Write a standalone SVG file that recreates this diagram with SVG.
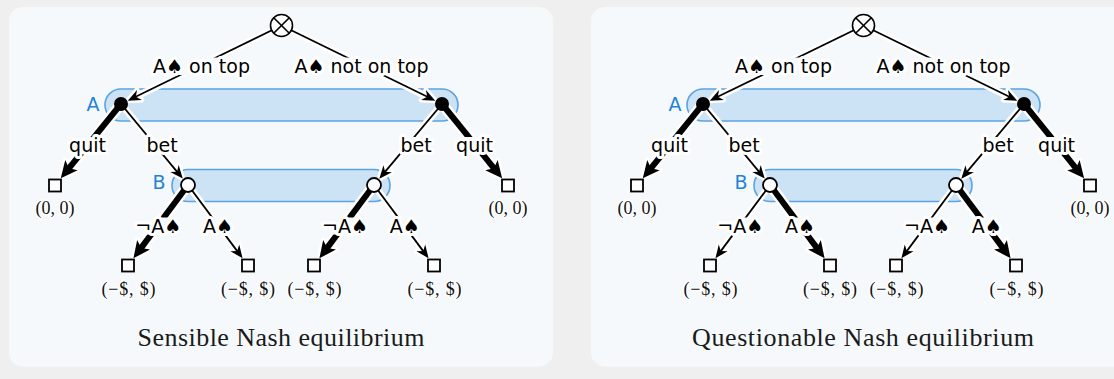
<svg xmlns="http://www.w3.org/2000/svg" width="1114" height="379" viewBox="0 0 1114 379">
<style>
.bg{fill:#efefef}
.panel{fill:#f5f9fc}
.iset{fill:#cce2f5;stroke:#5ba3e3;stroke-width:1.6}
.setlbl{font-family:"DejaVu Sans",sans-serif;font-size:19px;fill:#1f83d9;text-anchor:middle}
.cthin{stroke:#fff;stroke-width:7;fill:none;marker-end:url(#ahc)}
.cthick{stroke:#fff;stroke-width:11;fill:none;marker-end:url(#AHc)}
.thin{stroke:#000;stroke-width:1.8;fill:none;marker-end:url(#ah)}
.thick{stroke:#000;stroke-width:6;fill:none;marker-end:url(#AH)}
.lbg{fill:#f5f9fc}
.lbl{font-family:"DejaVu Sans",sans-serif;font-size:19px;fill:#000;stroke:#fff;stroke-width:6;stroke-linejoin:round;paint-order:stroke;text-anchor:middle}
.pay{font-family:"Liberation Serif",serif;font-size:18px;fill:#111;stroke:#fff;stroke-width:3;stroke-linejoin:round;paint-order:stroke;text-anchor:middle}
.title{font-family:"Liberation Serif",serif;font-size:26px;fill:#1a1a1a;text-anchor:middle}
.chance{fill:#fff;stroke:#000;stroke-width:1.6}
.pA{fill:#000}
.pB{fill:#fff;stroke:#000;stroke-width:1.8}
.leaf{fill:#fff;stroke:#000;stroke-width:1.8}
</style>
<defs>
<marker id="ah" markerUnits="userSpaceOnUse" orient="auto" refX="6.5" refY="0" markerWidth="30" markerHeight="30" overflow="visible"><path d="M0,-5.5 L13,0 L0,5.5 L4,0 Z" fill="#000"/></marker>
<marker id="ahc" markerUnits="userSpaceOnUse" orient="auto" refX="6.5" refY="0" markerWidth="30" markerHeight="30" overflow="visible"><path d="M0,-5.5 L13,0 L0,5.5 L4,0 Z" fill="#fff" stroke="#fff" stroke-width="5" stroke-linejoin="round"/></marker>
<marker id="AH" markerUnits="userSpaceOnUse" orient="auto" refX="9" refY="0" markerWidth="30" markerHeight="30" overflow="visible"><path d="M0,-8 L17,0 L0,8 L4,0 Z" fill="#000"/></marker>
<marker id="AHc" markerUnits="userSpaceOnUse" orient="auto" refX="9" refY="0" markerWidth="30" markerHeight="30" overflow="visible"><path d="M0,-8 L17,0 L0,8 L4,0 Z" fill="#fff" stroke="#fff" stroke-width="5" stroke-linejoin="round"/></marker>
</defs>
<rect class="bg" x="0" y="0" width="1114" height="379"/>

<g id="panel-sensible">
<rect class="panel" x="9" y="7" width="544" height="359.5" rx="14"/>
<g id="s-infosets">
<g id="s-infoset-A"><rect class="iset" x="105" y="89" width="353" height="32" rx="16"/><text class="setlbl" x="93" y="110.5">A</text></g>
<g id="s-infoset-B"><rect class="iset" x="172" y="169.5" width="218" height="32" rx="16"/><text class="setlbl" x="159" y="188.5">B</text></g>
</g>
<g id="s-connectors">
<line class="cthin" x1="281.5" y1="25.5" x2="133.6" y2="97.8"/>
<line class="cthin" x1="281.5" y1="25.5" x2="429.4" y2="97.8"/>
<line class="cthick" x1="121" y1="104" x2="65.8" y2="172.1"/>
<line class="cthin" x1="121" y1="104" x2="178.6" y2="173.6"/>
<line class="cthin" x1="442" y1="104" x2="383.5" y2="173.7"/>
<line class="cthick" x1="442" y1="104" x2="497.1" y2="172.1"/>
<line class="cthick" x1="188" y1="185" x2="138.2" y2="251.9"/>
<line class="cthin" x1="188" y1="185" x2="238.7" y2="253.1"/>
<line class="cthick" x1="374" y1="185" x2="324.2" y2="251.9"/>
<line class="cthin" x1="374" y1="185" x2="424.7" y2="253.1"/>
<line class="thin" x1="281.5" y1="25.5" x2="133.6" y2="97.8"/>
<line class="thin" x1="281.5" y1="25.5" x2="429.4" y2="97.8"/>
<line class="thick" x1="121" y1="104" x2="65.8" y2="172.1"/>
<line class="thin" x1="121" y1="104" x2="178.6" y2="173.6"/>
<line class="thin" x1="442" y1="104" x2="383.5" y2="173.7"/>
<line class="thick" x1="442" y1="104" x2="497.1" y2="172.1"/>
<line class="thick" x1="188" y1="185" x2="138.2" y2="251.9"/>
<line class="thin" x1="188" y1="185" x2="238.7" y2="253.1"/>
<line class="thick" x1="374" y1="185" x2="324.2" y2="251.9"/>
<line class="thin" x1="374" y1="185" x2="424.7" y2="253.1"/>
<rect class="lbg" x="152" y="57.5" width="99" height="17.5"/>
<rect class="lbg" x="293" y="57.5" width="137" height="17.5"/>
<rect class="lbg" x="68" y="137" width="39" height="17"/>
<rect class="lbg" x="146" y="137" width="32" height="17"/>
<rect class="lbg" x="400" y="137" width="32" height="17"/>
<rect class="lbg" x="455.5" y="137" width="38" height="17"/>
<rect class="lbg" x="134" y="217.5" width="49" height="17"/>
<rect class="lbg" x="202" y="217.5" width="32" height="17"/>
<rect class="lbg" x="320.5" y="217.5" width="49" height="17"/>
<rect class="lbg" x="389" y="217.5" width="31" height="17"/>
<text class="lbl" x="201.5" y="72.5">A♠ on top</text>
<text class="lbl" x="361.5" y="72.5">A♠ not on top</text>
<text class="lbl" x="87.5" y="152">quit</text>
<text class="lbl" x="162" y="152">bet</text>
<text class="lbl" x="416" y="152">bet</text>
<text class="lbl" x="474.5" y="152">quit</text>
<text class="lbl" x="158.3" y="232.5">¬A♠</text>
<text class="lbl" x="218" y="232.5">A♠</text>
<text class="lbl" x="345" y="232.5">¬A♠</text>
<text class="lbl" x="404.7" y="232.5">A♠</text>
</g>
<g id="s-chance"><circle class="chance" cx="281.5" cy="25.5" r="11"/><path d="M273.7,17.7 L289.3,33.3 M289.3,17.7 L273.7,33.3" stroke="#000" stroke-width="1.6"/></g>
<g id="s-A1"><circle class="pA" cx="121" cy="104" r="7"/></g>
<g id="s-A2"><circle class="pA" cx="442" cy="104" r="7"/></g>
<g id="s-B1"><circle class="pB" cx="188" cy="185" r="7"/></g>
<g id="s-B2"><circle class="pB" cx="374" cy="185" r="7"/></g>
<g id="s-L1"><rect class="leaf" x="49" y="179.5" width="12" height="12"/><text class="pay" x="55" y="213.5">(0, 0)</text></g>
<g id="s-L2"><rect class="leaf" x="502" y="179.5" width="12" height="12"/><text class="pay" x="508" y="213.5">(0, 0)</text></g>
<g id="s-L3"><rect class="leaf" x="122" y="259.5" width="12" height="12"/><text class="pay" x="128.5" y="295" textLength="54" lengthAdjust="spacing">(−$, $)</text></g>
<g id="s-L4"><rect class="leaf" x="242" y="259.5" width="12" height="12"/><text class="pay" x="248" y="295" textLength="54" lengthAdjust="spacing">(−$, $)</text></g>
<g id="s-L5"><rect class="leaf" x="308" y="259.5" width="12" height="12"/><text class="pay" x="314.5" y="295" textLength="54" lengthAdjust="spacing">(−$, $)</text></g>
<g id="s-L6"><rect class="leaf" x="428" y="259.5" width="12" height="12"/><text class="pay" x="434.5" y="295" textLength="54" lengthAdjust="spacing">(−$, $)</text></g>
<text class="title" x="281" y="345.5" textLength="287" lengthAdjust="spacing">Sensible Nash equilibrium</text>
</g>

<g id="panel-questionable" transform="translate(582,0)">
<rect class="panel" x="9" y="7" width="544" height="359.5" rx="14"/>
<g id="q-infosets">
<g id="q-infoset-A"><rect class="iset" x="105" y="89" width="353" height="32" rx="16"/><text class="setlbl" x="93" y="110.5">A</text></g>
<g id="q-infoset-B"><rect class="iset" x="172" y="169.5" width="218" height="32" rx="16"/><text class="setlbl" x="159" y="188.5">B</text></g>
</g>
<g id="q-connectors">
<line class="cthin" x1="281.5" y1="25.5" x2="133.6" y2="97.8"/>
<line class="cthin" x1="281.5" y1="25.5" x2="429.4" y2="97.8"/>
<line class="cthick" x1="121" y1="104" x2="65.8" y2="172.1"/>
<line class="cthin" x1="121" y1="104" x2="178.6" y2="173.6"/>
<line class="cthin" x1="442" y1="104" x2="383.5" y2="173.7"/>
<line class="cthick" x1="442" y1="104" x2="497.1" y2="172.1"/>
<line class="cthin" x1="188" y1="185" x2="137.3" y2="253.1"/>
<line class="cthick" x1="188" y1="185" x2="237.8" y2="251.9"/>
<line class="cthin" x1="374" y1="185" x2="323.3" y2="253.1"/>
<line class="cthick" x1="374" y1="185" x2="423.8" y2="251.9"/>
<line class="thin" x1="281.5" y1="25.5" x2="133.6" y2="97.8"/>
<line class="thin" x1="281.5" y1="25.5" x2="429.4" y2="97.8"/>
<line class="thick" x1="121" y1="104" x2="65.8" y2="172.1"/>
<line class="thin" x1="121" y1="104" x2="178.6" y2="173.6"/>
<line class="thin" x1="442" y1="104" x2="383.5" y2="173.7"/>
<line class="thick" x1="442" y1="104" x2="497.1" y2="172.1"/>
<line class="thin" x1="188" y1="185" x2="137.3" y2="253.1"/>
<line class="thick" x1="188" y1="185" x2="237.8" y2="251.9"/>
<line class="thin" x1="374" y1="185" x2="323.3" y2="253.1"/>
<line class="thick" x1="374" y1="185" x2="423.8" y2="251.9"/>
<rect class="lbg" x="152" y="57.5" width="99" height="17.5"/>
<rect class="lbg" x="293" y="57.5" width="137" height="17.5"/>
<rect class="lbg" x="68" y="137" width="39" height="17"/>
<rect class="lbg" x="146" y="137" width="32" height="17"/>
<rect class="lbg" x="400" y="137" width="32" height="17"/>
<rect class="lbg" x="455.5" y="137" width="38" height="17"/>
<rect class="lbg" x="134" y="217.5" width="49" height="17"/>
<rect class="lbg" x="202" y="217.5" width="32" height="17"/>
<rect class="lbg" x="320.5" y="217.5" width="49" height="17"/>
<rect class="lbg" x="389" y="217.5" width="31" height="17"/>
<text class="lbl" x="201.5" y="72.5">A♠ on top</text>
<text class="lbl" x="361.5" y="72.5">A♠ not on top</text>
<text class="lbl" x="87.5" y="152">quit</text>
<text class="lbl" x="162" y="152">bet</text>
<text class="lbl" x="416" y="152">bet</text>
<text class="lbl" x="474.5" y="152">quit</text>
<text class="lbl" x="158.3" y="232.5">¬A♠</text>
<text class="lbl" x="218" y="232.5">A♠</text>
<text class="lbl" x="345" y="232.5">¬A♠</text>
<text class="lbl" x="404.7" y="232.5">A♠</text>
</g>
<g id="q-chance"><circle class="chance" cx="281.5" cy="25.5" r="11"/><path d="M273.7,17.7 L289.3,33.3 M289.3,17.7 L273.7,33.3" stroke="#000" stroke-width="1.6"/></g>
<g id="q-A1"><circle class="pA" cx="121" cy="104" r="7"/></g>
<g id="q-A2"><circle class="pA" cx="442" cy="104" r="7"/></g>
<g id="q-B1"><circle class="pB" cx="188" cy="185" r="7"/></g>
<g id="q-B2"><circle class="pB" cx="374" cy="185" r="7"/></g>
<g id="q-L1"><rect class="leaf" x="49" y="179.5" width="12" height="12"/><text class="pay" x="55" y="213.5">(0, 0)</text></g>
<g id="q-L2"><rect class="leaf" x="502" y="179.5" width="12" height="12"/><text class="pay" x="508" y="213.5">(0, 0)</text></g>
<g id="q-L3"><rect class="leaf" x="122" y="259.5" width="12" height="12"/><text class="pay" x="128.5" y="295" textLength="54" lengthAdjust="spacing">(−$, $)</text></g>
<g id="q-L4"><rect class="leaf" x="242" y="259.5" width="12" height="12"/><text class="pay" x="248" y="295" textLength="54" lengthAdjust="spacing">(−$, $)</text></g>
<g id="q-L5"><rect class="leaf" x="308" y="259.5" width="12" height="12"/><text class="pay" x="314.5" y="295" textLength="54" lengthAdjust="spacing">(−$, $)</text></g>
<g id="q-L6"><rect class="leaf" x="428" y="259.5" width="12" height="12"/><text class="pay" x="434.5" y="295" textLength="54" lengthAdjust="spacing">(−$, $)</text></g>
<text class="title" x="281" y="345.5" textLength="342" lengthAdjust="spacing">Questionable Nash equilibrium</text>
</g>
</svg>
